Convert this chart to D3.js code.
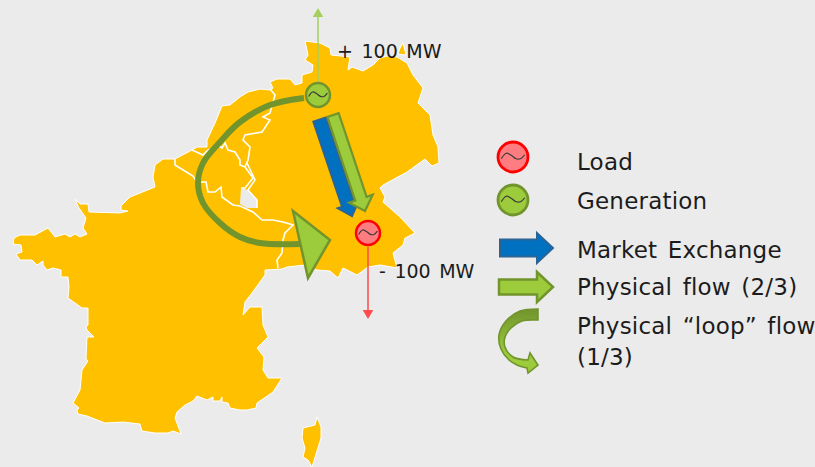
<!DOCTYPE html>
<html>
<head>
<meta charset="UTF-8">
<script src="https://d3js.org/d3.v7.min.js"></script>
<style>
html,body{margin:0;padding:0;background:#ebebeb;overflow:hidden}
svg{display:block}
text{font-family:"DejaVu Sans",Verdana,sans-serif;fill:#1c1c1c}
</style>
</head>
<body>
<script>
// map outline (map units)
var mainland = [[14,238],[20,235],[35,235],[48,228],[55,237],[65,234],[70,237],[75,234],[80,237],[87,234],[83,228],[86,218],[79,208],[75,199],[80,204],[88,204],[89,212],[120,213],[128,211],[121,210],[121,206],[130,197],[155,187],[153,177],[155,165],[163,159],[175,159],[192,150],[197,147],[207,147],[207,140],[215,123],[222,106],[230,105],[240,97],[248,92],[260,89],[270,90],[273,88],[270,82],[277,79],[290,79],[295,85],[302,83],[302,75],[312,72],[313,65],[305,60],[308,55],[305,41],[320,43],[330,48],[331,55],[350,57],[348,70],[352,67],[363,71],[373,65],[380,58],[387,56],[397,57],[407,63],[413,75],[423,88],[418,103],[430,115],[433,135],[438,147],[439,163],[432,166],[425,159],[407,172],[383,185],[380,188],[385,197],[383,202],[400,217],[415,233],[405,238],[403,245],[393,253],[397,268],[380,265],[368,267],[357,275],[343,268],[338,278],[330,271],[317,270],[305,265],[287,267],[282,269],[265,270],[265,275],[252,293],[245,302],[243,315],[250,307],[262,307],[263,325],[268,337],[257,348],[264,357],[263,370],[268,378],[282,378],[273,392],[257,403],[256,408],[247,410],[240,410],[230,408],[228,403],[222,402],[222,397],[220,401],[213,401],[213,397],[207,400],[197,396],[193,401],[185,405],[177,412],[175,418],[181,434],[173,431],[168,433],[155,433],[142,431],[140,424],[123,422],[105,423],[87,416],[78,414],[77,410],[79,408],[73,403],[80,390],[82,370],[88,361],[86,359],[87,337],[94,337],[87,330],[86,327],[88,325],[88,308],[82,308],[68,298],[69,287],[68,277],[61,277],[61,270],[53,268],[47,270],[43,265],[43,261],[37,265],[32,260],[20,260],[16,254],[22,252],[21,245],[13,244]];
var corsica = [[317,417],[315,425],[303,428],[302,438],[305,448],[303,457],[308,460],[312,467],[321,438],[321,427]];
var rugen = [[403,43],[406,55],[398,54],[400,48]];
var luxembourg = [[241,188],[248,190],[257,200],[257,208],[247,208],[240,204]];

// inner borders
var borderFrBe = [[175,159],[175,165],[188,173],[193,176],[197,182],[206,182],[208,192],[215,192],[221,187],[222,197],[233,205],[240,206],[253,212],[262,220],[273,220],[283,222],[293,225],[285,233],[283,240],[282,253],[277,260],[278,268]];
var borderBeNl = [[192,150],[203,155],[208,150],[215,148],[218,145],[222,148],[225,143],[228,150],[235,152],[240,160],[240,165],[245,167]];
var borderNlDe = [[245,167],[248,160],[250,147],[243,140],[245,135],[262,132],[270,120],[263,117],[270,113],[275,95],[270,89]];
var borderBeDe = [[245,167],[253,178],[245,188],[241,188]];
var borderDeFr = [[247,163],[255,180],[248,190],[257,200],[257,208]];
var borders = [borderFrBe, borderBeNl, borderNlDe, borderBeDe, borderDeFr];

// flows on the map and in the legend: tail centre, tip
var marketFlow = [[319.5,119.5],[352,216]];
var physicalFlow = [[333,115],[365,211]];
var loopFlow = [[304,98],[270,105],[240,122],[220,142],[203,163],[198,183],[203,203],[220,223],[240,237],[260,243],[300,244]];
var loopHead = [[293,211],[330,240],[308,278]];
var generationOut = [[318,82],[318,14]];
var loadOut = [[368,247],[368,313]];

var generators = [[318,95]];
var loads = [[368,233]];
var legendLoad = [[513,157]];
var legendGeneration = [[513,200]];
var legendMarket = [[500,248],[553,248]];
var legendPhysical = [[499,287],[553,287]];
var legendLoopOuter = [[538,309],[520,311],[506,321],[499,335],[501,349],[509,360],[517,365],[527,368]];
var legendLoopHead = [[528,373],[538,365],[530,353],[528,360]];
var legendLoopInner = [[528,360],[513,357],[505,347],[505,337],[511,328],[522,321],[538,320]];

var tilde = [[-0.78,0.12],[-0.45,-0.25],[-0.1,-0.1],[0.2,0.12],[0.5,0.12],[0.78,-0.15]];

var legendLabels = ["Load","Generation","Market Exchange","Physical flow (2/3)","Physical \u201cloop\u201d flow","(1/3)"];
var mapLabels = ["+ 100 MW","- 100 MW"];

var width = 815, height = 467;
var x = d3.scaleLinear().domain([0,815]).range([0,width]);
var y = d3.scaleLinear().domain([0,467]).range([0,height]);

var orange = "#ffc000", green = "#9ccb3b", greenDark = "#71942d", blue = "#0070c0", blueDark = "#2a6496";
var red = "#ff0000", pink = "#ff7c80";

var svg = d3.select("body").append("svg")
    .attr("width",width)
    .attr("height",height);

svg.append("rect").attr("width",width).attr("height",height).attr("fill","#ebebeb");

var line = d3.line().x(function(d){ return x(d[0]); }).y(function(d){ return y(d[1]); });
var polygon = d3.line().x(function(d){ return x(d[0]); }).y(function(d){ return y(d[1]); }).curve(d3.curveLinearClosed);
var smooth = d3.line().x(function(d){ return x(d[0]); }).y(function(d){ return y(d[1]); }).curve(d3.curveCatmullRom);

// map
svg.selectAll(".land")
    .data([mainland,corsica,rugen])
    .enter().append("path")
    .attr("class","land")
    .attr("d",polygon)
    .attr("fill",orange)
    .attr("stroke","#fff")
    .attr("stroke-width",1)
    .attr("stroke-linejoin","round");

svg.append("path").attr("d",polygon(luxembourg)).attr("fill","#ebebeb");

svg.selectAll(".border")
    .data(borders)
    .enter().append("path")
    .attr("class","border")
    .attr("d",line)
    .attr("fill","none")
    .attr("stroke","#fff")
    .attr("stroke-width",1.6);

// polygon for a straight block arrow, tail centre -> tip
function blockArrow(p, shaft, head, headLen){
    var dx = p[1][0]-p[0][0], dy = p[1][1]-p[0][1];
    var len = Math.sqrt(dx*dx+dy*dy);
    var ux = dx/len, uy = dy/len, nx = -uy, ny = ux;
    var nk = [p[1][0]-ux*headLen, p[1][1]-uy*headLen];
    return [
        [p[0][0]+nx*shaft/2, p[0][1]+ny*shaft/2],
        [nk[0]+nx*shaft/2, nk[1]+ny*shaft/2],
        [nk[0]+nx*head/2, nk[1]+ny*head/2],
        p[1],
        [nk[0]-nx*head/2, nk[1]-ny*head/2],
        [nk[0]-nx*shaft/2, nk[1]-ny*shaft/2],
        [p[0][0]-nx*shaft/2, p[0][1]-ny*shaft/2]
    ];
}

function drawArrow(p, shaft, head, headLen, fill, stroke, sw){
    svg.append("path")
        .attr("d",polygon(blockArrow(p,shaft,head,headLen)))
        .attr("fill",fill)
        .attr("stroke",stroke)
        .attr("stroke-width",sw)
        .attr("stroke-linejoin","miter");
}

drawArrow(marketFlow,13,22,12,blue,blueDark,2);
drawArrow(physicalFlow,12,25,13,green,greenDark,2.2);

// loop flow
svg.append("path")
    .attr("d",smooth(loopFlow))
    .attr("fill","none")
    .attr("stroke",greenDark)
    .attr("stroke-width",6);

svg.append("path")
    .attr("d",polygon(loopHead))
    .attr("fill",green)
    .attr("stroke",greenDark)
    .attr("stroke-width",2.5);

// thin in / out arrows
function thinArrow(p, colour){
    svg.append("path").attr("d",line(p)).attr("stroke",colour).attr("stroke-width",1.5).attr("fill","none");
    svg.append("path")
        .attr("d",d3.symbol().type(d3.symbolTriangle).size(48)())
        .attr("transform","translate("+x(p[1][0])+","+y(p[1][1])+") rotate("+(p[1][1]<p[0][1]?0:180)+")")
        .attr("fill",colour);
}
thinArrow(generationOut,"#a5d05f");
thinArrow(loadOut,"#ff4b4b");

// generator symbol
function machine(c, r, fill, stroke, sw){
    svg.append("circle")
        .attr("cx",x(c[0])).attr("cy",y(c[1])).attr("r",r)
        .attr("fill",fill).attr("stroke",stroke).attr("stroke-width",sw);
    svg.append("path")
        .attr("d",smooth(tilde.map(function(t){ return [c[0]+t[0]*r, c[1]+t[1]*r]; })))
        .attr("fill","none").attr("stroke","#3b3b3b").attr("stroke-width",1.2);
}
generators.forEach(function(c){ machine(c,12,green,greenDark,2.5); });
loads.forEach(function(c){ machine(c,12,pink,red,2.5); });

// legend
machine(legendLoad[0],15,pink,red,2.8);
machine(legendGeneration[0],15,green,greenDark,2.8);
drawArrow(legendMarket,17,30,16,blue,blueDark,2);
drawArrow(legendPhysical,15,30,16,green,greenDark,2.5);

var loopFill = svg.append("defs").append("linearGradient")
    .attr("id","loopFill")
    .attr("x1",0).attr("y1",0).attr("x2",0).attr("y2",1);
loopFill.append("stop").attr("offset","0%").attr("stop-color",greenDark);
loopFill.append("stop").attr("offset","70%").attr("stop-color",green);

// the crescent has curved edges, the head has straight ones
svg.append("path")
    .attr("d",smooth(legendLoopOuter)
        + legendLoopHead.map(function(d){ return "L"+x(d[0])+","+y(d[1]); }).join("")
        + "L" + smooth(legendLoopInner).slice(1) + "Z")
    .attr("fill","url(#loopFill)")
    .attr("stroke",greenDark)
    .attr("stroke-width",1.6);

var labelY = [170,209,258,295,334,365];
svg.selectAll(".legend-label")
    .data(legendLabels)
    .enter().append("text")
    .attr("class","legend-label")
    .attr("x",x(577))
    .attr("y",function(d,i){ return y(labelY[i]); })
    .attr("font-size",23)
    .attr("letter-spacing",0.2)
    .attr("word-spacing",3)
    .text(function(d){ return d; });

svg.append("text").attr("x",x(337)).attr("y",y(58)).attr("font-size",19).attr("word-spacing",2.5).text(mapLabels[0]);
svg.append("text").attr("x",x(379)).attr("y",y(278)).attr("font-size",19).attr("word-spacing",2.5).text(mapLabels[1]);
</script>
</body>
</html>
